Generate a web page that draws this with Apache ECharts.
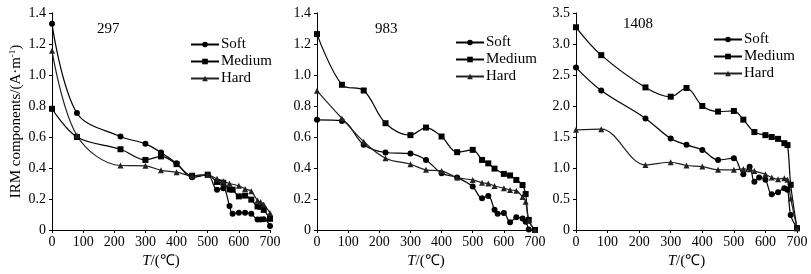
<!DOCTYPE html>
<html><head><meta charset="utf-8">
<script src="https://cdn.jsdelivr.net/npm/echarts@6/dist/echarts.min.js"></script>
<style>html,body{margin:0;padding:0;background:#fff}#c{width:811px;height:274px}</style>
</head><body><div id="c"></div>
<script>
const seriesNames = ['Soft', 'Medium', 'Hard'];
const panelTitles = ['297', '983', '1408'];
const xTicks = [0, 100, 200, 300, 400, 500, 600, 700];
const yTicks12 = [0, 0.2, 0.4, 0.6, 0.8, 1.0, 1.2, 1.4];
const yTicks3 = [0, 0.5, 1.0, 1.5, 2.0, 2.5, 3.0, 3.5];

// Panel 1 (297)
const p1SoftT = [0,80,220,300,350,400,450,500,530,550,570,580,600,620,640,660,670,680,700];
const p1SoftV = [1.33,0.755,0.603,0.556,0.50,0.43,0.34,0.355,0.26,0.27,0.155,0.105,0.112,0.112,0.105,0.068,0.068,0.07,0.026];
const p1MedT = [0,80,220,300,350,400,450,500,530,550,570,580,600,620,640,660,670,680,700];
const p1MedV = [0.782,0.60,0.521,0.452,0.475,0.425,0.35,0.357,0.31,0.305,0.262,0.26,0.217,0.222,0.196,0.152,0.15,0.13,0.072];
const p1HardT = [0,80,220,300,350,400,450,500,530,550,570,600,620,640,660,670,680,700];
const p1HardV = [1.157,0.61,0.416,0.414,0.385,0.373,0.35,0.355,0.33,0.315,0.30,0.285,0.265,0.25,0.19,0.18,0.165,0.11];

// Panel 2 (983)
const p2SoftT = [0,80,150,220,300,350,400,450,500,530,550,570,580,600,620,640,660,670,680];
const p2SoftV = [0.711,0.704,0.55,0.50,0.493,0.452,0.366,0.338,0.28,0.205,0.22,0.13,0.105,0.11,0.05,0.082,0.075,0.054,0.004];
const p2MedT = [0,80,150,220,300,350,400,450,500,530,550,570,600,620,640,660,670,680,700];
const p2MedV = [1.264,0.937,0.90,0.689,0.612,0.661,0.603,0.502,0.517,0.452,0.43,0.396,0.362,0.352,0.323,0.29,0.232,0.065,0.0];
const p2HardT = [0,80,150,220,300,350,400,450,500,530,550,570,600,620,640,660,670,680,700];
const p2HardV = [0.898,0.72,0.57,0.463,0.424,0.388,0.381,0.338,0.323,0.305,0.30,0.284,0.27,0.258,0.254,0.213,0.183,0.06,0.0];

// Panel 3 (1408)
const p3SoftT = [0,80,220,300,350,400,450,500,530,550,565,580,600,620,640,660,670,680,700];
const p3SoftV = [2.62,2.25,1.80,1.475,1.373,1.292,1.13,1.158,0.90,1.02,0.78,0.845,0.81,0.576,0.61,0.675,0.65,0.24,0.03];
const p3MedT = [0,80,220,300,350,400,450,500,530,565,600,620,640,660,670,680,700];
const p3MedV = [3.27,2.82,2.30,2.15,2.29,2.0,1.91,1.92,1.78,1.58,1.53,1.50,1.47,1.40,1.37,0.73,0.03];
const p3HardT = [0,80,220,300,350,400,450,500,530,550,565,600,620,640,660,670,680,700];
const p3HardV = [1.615,1.626,1.05,1.093,1.04,1.023,0.97,0.97,0.985,0.98,0.95,0.90,0.845,0.82,0.835,0.81,0.51,0.03];

const panels = [
  {T:[p1SoftT,p1MedT,p1HardT], V:[p1SoftV,p1MedV,p1HardV], max:1.4, interval:0.2},
  {T:[p2SoftT,p2MedT,p2HardT], V:[p2SoftV,p2MedV,p2HardV], max:1.4, interval:0.2},
  {T:[p3SoftT,p3MedT,p3HardT], V:[p3SoftV,p3MedV,p3HardV], max:3.5, interval:0.5}
];

const FONT = 'Liberation Serif';
const gridPos = [
  {left:52, top:13, width:218, height:217},
  {left:317, top:13, width:218, height:217},
  {left:576, top:13, width:221, height:217}
];
const titlePos = [{left:92, top:17},{left:370, top:17},{left:618, top:12}];
const legendPos = [{left:190, top:37},{left:455, top:35},{left:713, top:32}];
const symbols = ['circle', 'rect', 'triangle'];
const symSizes = [6, 6, 6];

const grids = [], xAxes = [], yAxes = [], series = [], titles = [], legends = [];
panels.forEach((p, i) => {
  grids.push(Object.assign({}, gridPos[i]));
  xAxes.push({
    type:'value', gridIndex:i, min:0, max:700, interval:100,
    name: '{it|T}/(℃)',
    nameLocation:'middle', nameGap:24,
    nameTextStyle:{fontFamily:FONT, fontSize:15, color:'#000', rich:{it:{fontStyle:'italic', fontFamily:FONT, fontSize:15, color:'#000'}}},
    axisLine:{lineStyle:{color:'#000', width:1}},
    axisTick:{show:true, length:3, lineStyle:{color:'#000'}},
    axisLabel:{fontFamily:FONT, fontSize:14, color:'#000', margin:5},
    splitLine:{show:false}
  });
  yAxes.push({
    type:'value', gridIndex:i, min:0, max:p.max, interval:p.interval,
    name: i === 0 ? 'IRM components/(A·m{sup|-1})' : '',
    nameLocation:'middle', nameGap:27, nameRotate:90,
    nameTextStyle:{fontFamily:FONT, fontSize:15, color:'#000', rich:{sup:{fontSize:9, fontFamily:FONT, color:'#000', verticalAlign:'top', padding:[0,0,8,0]}}},
    axisLine:{show:true, lineStyle:{color:'#000', width:1}},
    axisTick:{show:true, length:3, lineStyle:{color:'#000'}},
    axisLabel:{fontFamily:FONT, fontSize:14, color:'#000', margin:6,
      formatter: v => v === 0 ? '0' : v.toFixed(1)},
    splitLine:{show:false}
  });
  titles.push({text: panelTitles[i], left: titlePos[i].left, top: titlePos[i].top,
    textStyle:{fontFamily:FONT, fontSize:15, fontWeight:'normal', color:'#000'}});
  legends.push({
    orient:'vertical', left: legendPos[i].left, top: legendPos[i].top,
    data: seriesNames, itemWidth:28, itemHeight:7, itemGap:2, padding:0,
    textStyle:{fontFamily:FONT, fontSize:15, color:'#000', padding:[0,0,0,-3]},
    selectedMode:false
  });
  for (let s = 0; s < 3; s++) {
    series.push({
      type:'line', name: seriesNames[s], xAxisIndex:i, yAxisIndex:i,
      data: p.T[s].map((t, k) => [t, p.V[s][k]]),
      smooth:0.35, symbol: symbols[s], symbolSize: symSizes[s], showSymbol:true,
      lineStyle:{color: s === 2 ? '#222' : '#000', width:1.2},
      itemStyle:{color: s === 2 ? '#222' : '#000'},
      clip:false, animation:false
    });
  }
});

const chart = echarts.init(document.getElementById('c'), null, {renderer:'canvas'});
chart.setOption({
  animation:false,
  backgroundColor:'#fff',
  title: titles, legend: legends, grid: grids, xAxis: xAxes, yAxis: yAxes, series: series
});
</script>
</body></html>
